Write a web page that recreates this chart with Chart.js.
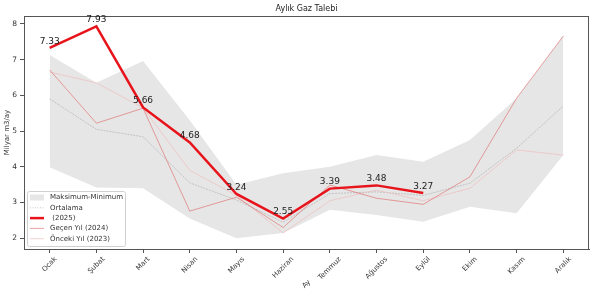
<!DOCTYPE html>
<html>
<head>
<meta charset="utf-8">
<title>Aylık Gaz Talebi</title>
<script src="https://cdn.jsdelivr.net/npm/chart.js@4"></script>
<style>
  body { margin: 0; background: #fff; }
  #wrap { width: 594px; height: 294px; }
</style>
</head>
<body>
<div id="wrap"><canvas id="chart" width="594" height="294"></canvas></div>
<script>
// Aylar
const months = ['Ocak', 'Şubat', 'Mart', 'Nisan', 'Mayıs', 'Haziran', 'Temmuz', 'Ağustos', 'Eylül', 'Ekim', 'Kasım', 'Aralık'];
const yTicks = [2, 3, 4, 5, 6, 7, 8];

// Milyar m3/ay
const maxValues = [7.13, 6.35, 6.96, 5.3, 3.5, 3.82, 4.0, 4.33, 4.14, 4.75, 5.92, 7.66];
const minValues = [3.99, 3.42, 3.4, 2.55, 2.0, 2.15, 2.8, 2.65, 2.46, 2.88, 2.7, 4.33];
const avgValues = [5.9, 5.05, 4.84, 3.55, 3.07, 2.45, 3.25, 3.3, 3.2, 3.54, 4.52, 5.7];
const values2025 = [7.33, 7.93, 5.66, 4.68, 3.24, 2.55, 3.39, 3.48, 3.27];
const values2024 = [6.71, 5.22, 5.64, 2.76, 3.15, 2.3, 3.49, 3.12, 2.95, 3.72, 5.92, 7.66];
const values2023 = [6.65, 6.35, 5.65, 3.9, 3.2, 2.15, 3.05, 3.35, 3.05, 3.4, 4.47, 4.33];

const toPoints = arr => arr.map((v, i) => ({ x: i, y: v }));

const FONT = 'DejaVu Sans, sans-serif';
const BAND = '#e6e6e6';
const RED_2024 = 'rgba(222,100,100,0.6)';
const PINK_2023 = 'rgba(240,190,190,0.7)';

// başlık, çerçeve, x etiketleri, değer etiketleri ve lejant
const decorPlugin = {
  id: 'decor',
  afterDraw(chart) {
    const ctx = chart.ctx;
    const area = chart.chartArea;
    const xs = chart.scales.x;
    const ys = chart.scales.y;

    ctx.save();

    // çerçeve
    ctx.strokeStyle = '#555';
    ctx.lineWidth = 1;
    ctx.strokeRect(area.left + 0.5, area.top + 0.5, area.right - area.left - 1, area.bottom - area.top);

    // başlık
    ctx.fillStyle = '#222';
    ctx.font = '8px ' + FONT;
    ctx.textAlign = 'center';
    ctx.textBaseline = 'alphabetic';
    ctx.fillText('Aylık Gaz Talebi', (area.left + area.right) / 2, 11);

    // x etiketleri (45 derece, ortalı)
    ctx.font = '7px ' + FONT;
    ctx.fillStyle = '#333';
    months.forEach((m, i) => {
      const x = xs.getPixelForValue(i);
      const w = ctx.measureText(m).width;
      const h = 6;
      const top = area.bottom + 7;
      const cy = top + (w + h) * 0.707 / 2;
      ctx.save();
      ctx.translate(x, cy);
      ctx.rotate(-Math.PI / 4);
      ctx.textAlign = 'center';
      ctx.textBaseline = 'middle';
      ctx.fillText(m, 0, 0);
      ctx.restore();
    });

    // x ekseni başlığı
    ctx.save();
    ctx.translate((area.left + area.right) / 2, 284);
    ctx.rotate(-Math.PI / 4);
    ctx.textAlign = 'center';
    ctx.textBaseline = 'middle';
    ctx.fillText('Ay', 0, 0);
    ctx.restore();

    // 2025 değerleri
    ctx.font = '9px ' + FONT;
    ctx.fillStyle = '#222';
    ctx.textAlign = 'center';
    ctx.textBaseline = 'bottom';
    values2025.forEach((v, i) => {
      ctx.fillText(v.toFixed(2), xs.getPixelForValue(i), ys.getPixelForValue(v) - 2);
    });

    // lejant
    const lx = area.left + 3, ly = 191, lw = 98, lh = 55;
    ctx.fillStyle = 'rgba(255,255,255,0.8)';
    ctx.strokeStyle = '#d0d0d0';
    ctx.beginPath();
    ctx.roundRect(lx + 0.5, ly + 0.5, lw, lh, 2);
    ctx.fill();
    ctx.stroke();

    const items = [
      { label: 'Maksimum-Minimum', box: true },
      { label: 'Ortalama', color: '#c4c8c0', width: 1, dash: [1, 1.5] },
      { label: ' (2025)', color: '#e8141c', width: 2.5 },
      { label: 'Geçen Yıl (2024)', color: RED_2024, width: 1 },
      { label: 'Önceki Yıl (2023)', color: PINK_2023, width: 1 }
    ];
    ctx.font = '7px ' + FONT;
    ctx.textAlign = 'left';
    ctx.textBaseline = 'middle';
    items.forEach((it, k) => {
      const y = ly + 6.5 + k * 10.3;
      if (it.box) {
        ctx.fillStyle = BAND;
        ctx.fillRect(lx + 3, y - 3, 14, 6);
      } else {
        ctx.strokeStyle = it.color;
        ctx.lineWidth = it.width;
        ctx.setLineDash(it.dash || []);
        ctx.beginPath();
        ctx.moveTo(lx + 3, y);
        ctx.lineTo(lx + 17, y);
        ctx.stroke();
        ctx.setLineDash([]);
      }
      ctx.fillStyle = '#333';
      ctx.fillText(it.label, lx + 23, y);
    });

    ctx.restore();
  }
};

new Chart(document.getElementById('chart'), {
  type: 'line',
  data: {
    datasets: [
      {
        label: 'Maksimum',
        data: toPoints(maxValues),
        borderWidth: 0,
        borderColor: 'rgba(0,0,0,0)',
        pointRadius: 0,
        backgroundColor: BAND,
        fill: '+1',
        tension: 0,
        order: 10
      },
      {
        label: 'Minimum',
        data: toPoints(minValues),
        borderWidth: 0,
        borderColor: 'rgba(0,0,0,0)',
        pointRadius: 0,
        fill: false,
        order: 9
      },
      {
        label: 'Ortalama',
        data: toPoints(avgValues),
        borderColor: 'rgba(190,190,190,0.9)',
        borderWidth: 1,
        borderDash: [2, 1],
        pointRadius: 0,
        fill: false,
        order: 4
      },
      {
        label: 'Önceki Yıl (2023)',
        data: toPoints(values2023),
        borderColor: PINK_2023,
        borderWidth: 1,
        pointRadius: 0,
        fill: false,
        order: 3
      },
      {
        label: 'Geçen Yıl (2024)',
        data: toPoints(values2024),
        borderColor: RED_2024,
        borderWidth: 1,
        pointRadius: 0,
        fill: false,
        order: 2
      },
      {
        label: ' (2025)',
        data: toPoints(values2025),
        borderColor: '#e8141c',
        borderWidth: 2.5,
        pointRadius: 0,
        fill: false,
        order: 1
      }
    ]
  },
  options: {
    responsive: false,
    animation: false,
    layout: { padding: { top: 16, right: 5, left: 0, bottom: 0 } },
    plugins: {
      legend: { display: false },
      title: { display: false },
      tooltip: { enabled: false }
    },
    scales: {
      x: {
        type: 'linear',
        min: -0.55,
        max: 11.55,
        afterBuildTicks: scale => { scale.ticks = months.map((m, i) => ({ value: i })); },
        afterFit: scale => { scale.height = 45; },
        ticks: { color: 'rgba(0,0,0,0)', font: { size: 7 }, maxRotation: 0, autoSkip: false },
        grid: { drawOnChartArea: false, drawTicks: true, tickLength: 4, color: '#555' },
        border: { color: '#555' }
      },
      y: {
        min: 1.7,
        max: 8.22,
        afterBuildTicks: scale => { scale.ticks = yTicks.map(v => ({ value: v })); },
        afterFit: scale => { scale.width = 24; },
        ticks: { color: '#333', font: { size: 7.5, family: FONT }, padding: 3 },
        grid: { drawOnChartArea: false, drawTicks: true, tickLength: 4, color: '#555' },
        border: { color: '#555' },
        title: {
          display: true,
          text: 'Milyar m3/ay',
          color: '#333',
          font: { size: 7, family: FONT },
          padding: { top: 3, bottom: 0 }
        }
      }
    }
  },
  plugins: [decorPlugin]
});
</script>
</body>
</html>
